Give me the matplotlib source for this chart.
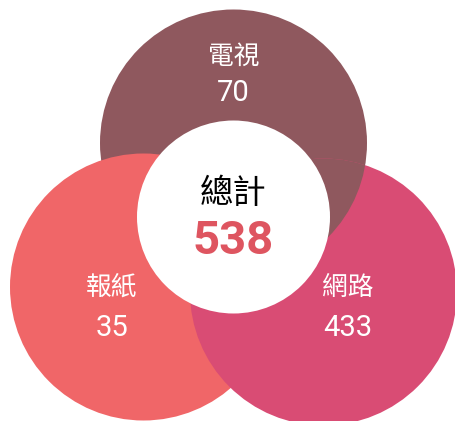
import matplotlib
matplotlib.use("Agg")
import matplotlib.pyplot as plt
from matplotlib.patches import Circle

categories = ["電視", "報紙", "網路"]
values = [70, 35, 433]
total_label = "總計"
total_value = sum(values)
colors = ["#8F585E", "#F06668", "#D94C74"]

W, H = 456, 421
fig = plt.figure(figsize=(W / 100, H / 100), dpi=100)
ax = fig.add_axes([0, 0, 1, 1])
ax.set_xlim(0, W)
ax.set_ylim(H, 0)
ax.set_aspect("equal")
ax.axis("off")

R = 133.5
centers = [(233.5, 143), (143.5, 287), (323.5, 292)]
label_pos = [(233.5, 57), (112, 288), (347.5, 288)]
value_pos = [(233.5, 93), (112, 328), (347.5, 328)]

for (cx, cy), c in zip(centers, colors):
    ax.add_patch(Circle((cx, cy), R, facecolor=c, edgecolor="none", zorder=1))

# cyclic overlap: coral over brown, pink over coral, brown over pink
top_over = Circle(centers[0], R, facecolor=colors[0], edgecolor="none", zorder=2)
ax.add_patch(top_over)
top_over.set_clip_path(Circle(centers[2], R, transform=ax.transData))

ax.add_patch(Circle((233.5, 217), 96.5, facecolor="white", edgecolor="none", zorder=3))

cjk = ["Noto Sans CJK TC", "DejaVu Sans"]
digits = ["Liberation Sans Narrow", "Roboto", "DejaVu Sans"]
for name, v, lp, vp in zip(categories, values, label_pos, value_pos):
    ax.text(lp[0], lp[1], name, color="white", fontsize=18.5, family=cjk,
            ha="center", va="center", zorder=4)
    ax.text(vp[0], vp[1], str(v), color="white", fontsize=21, family=digits,
            ha="center", va="center", zorder=4)

ax.text(233.5, 193, total_label, color="black", fontsize=24, family=cjk,
        ha="center", va="center", zorder=4)
ax.text(233.5, 241, str(total_value), color="#DE5560", fontsize=34, family=["Roboto", "DejaVu Sans"],
        fontweight="bold", ha="center", va="center", zorder=4)

fig.savefig("out.png", dpi=100)
